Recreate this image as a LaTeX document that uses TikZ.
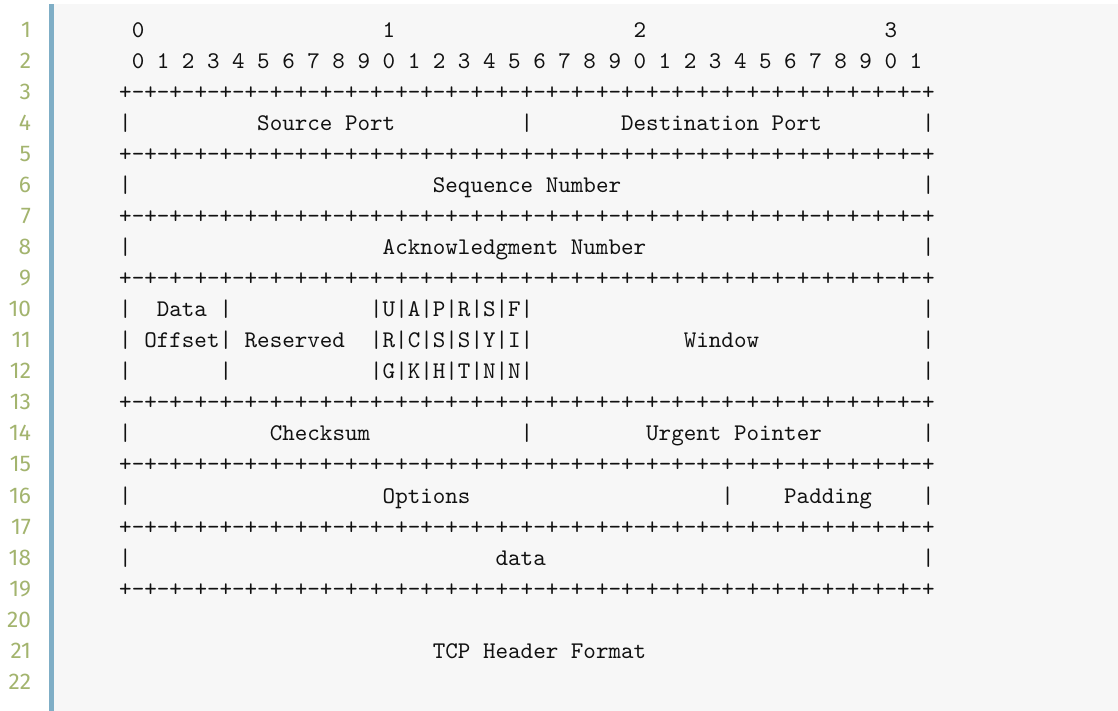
\documentclass[tikz,border=0pt]{standalone}
\usepackage{fontspec}
\newfontfamily\lnfont{Fira Sans}
\definecolor{pagebg}{HTML}{F7F7F7}
\definecolor{barblue}{HTML}{7FAEC6}
\definecolor{lngreen}{HTML}{A3B46E}
\definecolor{codeink}{HTML}{111111}
\newcommand\sk[1]{\hspace*{\dimexpr0.525em*#1\relax}}
\def\ws{\sk1}
\def\pmA{+-}
\def\pmB{\pmA\pmA\pmA\pmA}
\def\pmC{\pmB\pmB\pmB\pmB}
\def\borderline{\pmC\pmC+}
\def\digitrun{0\ws1\ws2\ws3\ws4\ws5\ws6\ws7\ws8\ws9}
\begin{document}
\begin{tikzpicture}[x=0.41841pt,y=-0.41841pt,
  code/.style={anchor=base west,inner sep=0pt,font=\ttfamily\fontsize{10}{12}\selectfont,text=codeink},
  lnum/.style={anchor=base east,inner sep=0pt,font=\lnfont\fontsize{9.5}{11}\selectfont,text=lngreen}]
\useasboundingbox (0,0) rectangle (1118,711);
\fill[white] (0,0) rectangle (1118,711);
\fill[pagebg] (54,4) rectangle (1118,711);
\fill[barblue] (49,4) rectangle (54,711);
\foreach \k in {1,...,22}
  \node[lnum] (n\k) at (31.5,{37.4+(\k-1)*31.04}) {\k};
% code lines, starting at column 3
\def\cx{118.74}
\node[code] (c1) at (\cx,{37.4+0*31.04}) {\ws0\sk{19}1\sk{19}2\sk{19}3};
\node[code] (c2) at (\cx,{37.4+1*31.04}) {\ws\digitrun\ws\digitrun\ws\digitrun\ws0\ws1};
\node[code] (c3) at (\cx,{37.4+2*31.04}) {\borderline};
\node[code] (c4) at (\cx,{37.4+3*31.04}) {|\sk{10}Source\ws Port\sk{10}|\sk7Destination\ws Port\sk8|};
\node[code] (c5) at (\cx,{37.4+4*31.04}) {\borderline};
\node[code] (c6) at (\cx,{37.4+5*31.04}) {|\sk{24}Sequence\ws Number\sk{24}|};
\node[code] (c7) at (\cx,{37.4+6*31.04}) {\borderline};
\node[code] (c8) at (\cx,{37.4+7*31.04}) {|\sk{20}Acknowledgment\ws Number\sk{22}|};
\node[code] (c9) at (\cx,{37.4+8*31.04}) {\borderline};
\node[code] (c10) at (\cx,{37.4+9*31.04}) {|\sk2Data\ws|\sk{11}|U|A|P|R|S|F|\sk{31}|};
\node[code] (c11) at (\cx,{37.4+10*31.04}) {|\ws Offset|\ws Reserved\sk2|R|C|S|S|Y|I|\sk{12}Window\sk{13}|};
\node[code] (c12) at (\cx,{37.4+11*31.04}) {|\sk7|\sk{11}|G|K|H|T|N|N|\sk{31}|};
\node[code] (c13) at (\cx,{37.4+12*31.04}) {\borderline};
\node[code] (c14) at (\cx,{37.4+13*31.04}) {|\sk{11}Checksum\sk{12}|\sk9Urgent\ws Pointer\sk8|};
\node[code] (c15) at (\cx,{37.4+14*31.04}) {\borderline};
\node[code] (c16) at (\cx,{37.4+15*31.04}) {|\sk{20}Options\sk{20}|\sk4Padding\sk4|};
\node[code] (c17) at (\cx,{37.4+16*31.04}) {\borderline};
\node[code] (c18) at (\cx,{37.4+17*31.04}) {|\sk{29}data\sk{30}|};
\node[code] (c19) at (\cx,{37.4+18*31.04}) {\borderline};
\node[code] (c21) at (\cx,{37.4+20*31.04}) {\sk{25}TCP\ws Header\ws Format};
\end{tikzpicture}
\end{document}
